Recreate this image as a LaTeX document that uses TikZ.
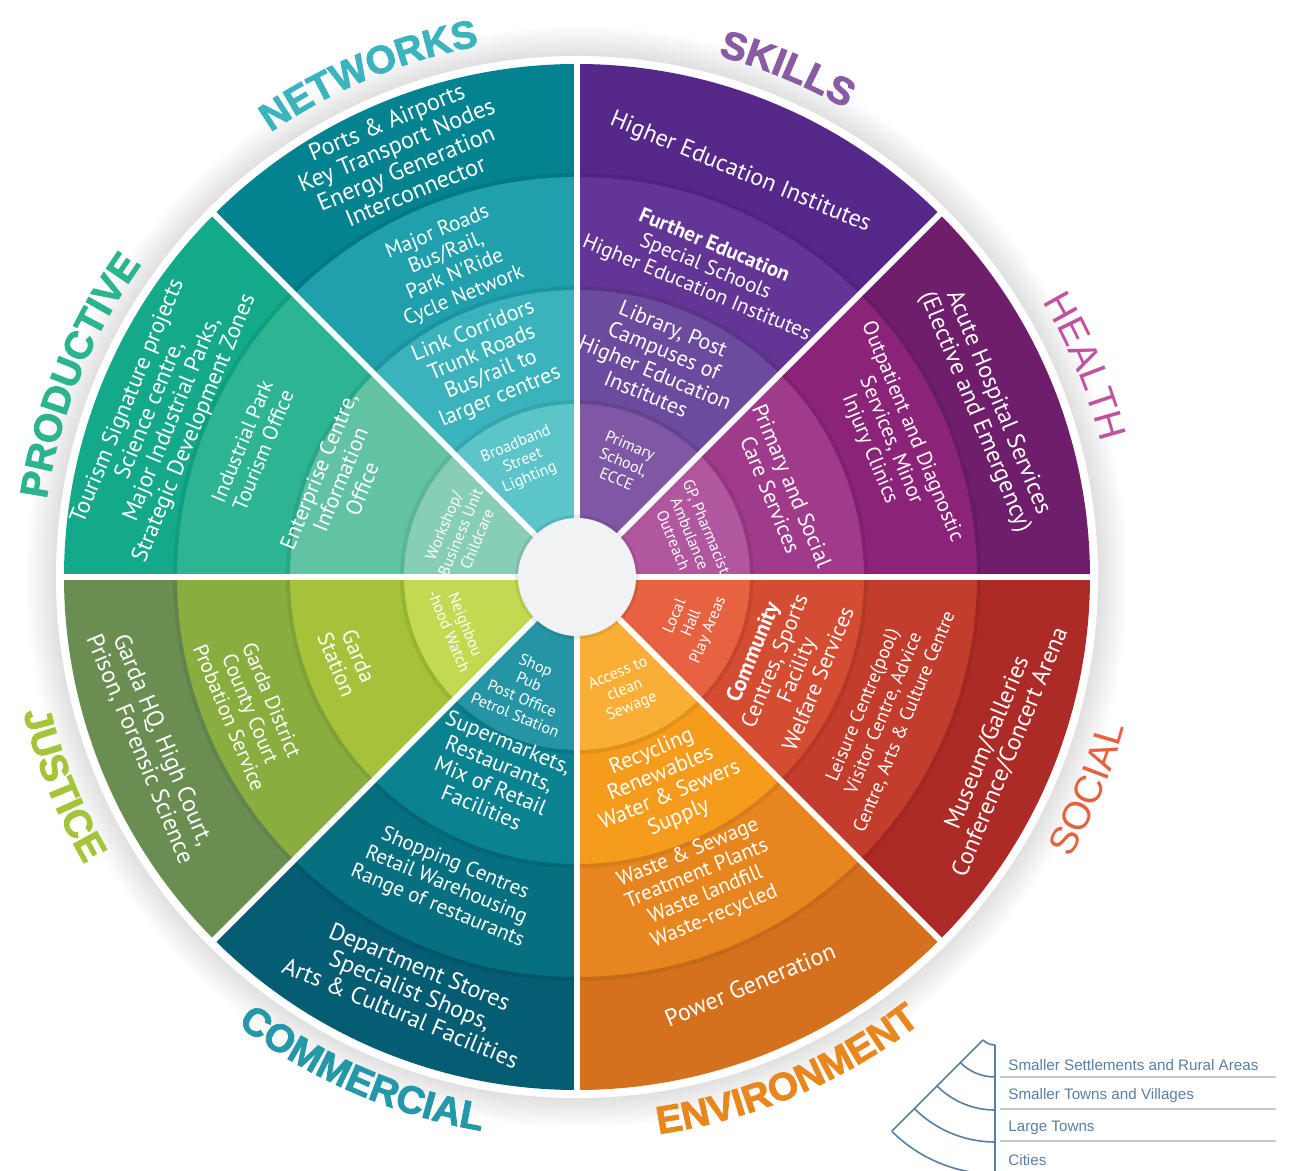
\documentclass[tikz,border=0pt]{standalone}
\usepackage{fontspec}
\newfontfamily\ringfont{PT Sans}
\newfontfamily\labelfont[BoldFeatures={FakeBold=2}]{Liberation Sans}
\usetikzlibrary{decorations.text}

\definecolor{net4}{HTML}{02838F}
\definecolor{net3}{HTML}{1FA0AC}
\definecolor{net2}{HTML}{3BB3BC}
\definecolor{net1}{HTML}{5BC5CA}
\definecolor{net5}{HTML}{3BB4BE}
\definecolor{skl4}{HTML}{55288A}
\definecolor{skl3}{HTML}{633594}
\definecolor{skl2}{HTML}{6C4A9D}
\definecolor{skl1}{HTML}{7F57A4}
\definecolor{skl5}{HTML}{8A5BA5}
\definecolor{hea4}{HTML}{6F1E6C}
\definecolor{hea3}{HTML}{8B2379}
\definecolor{hea2}{HTML}{A03A8A}
\definecolor{hea1}{HTML}{B057A0}
\definecolor{hea5}{HTML}{C052A0}
\definecolor{soc4}{HTML}{AD2B27}
\definecolor{soc3}{HTML}{C23D2C}
\definecolor{soc2}{HTML}{D44C31}
\definecolor{soc1}{HTML}{E66241}
\definecolor{soc5}{HTML}{E5613F}
\definecolor{env4}{HTML}{D5711C}
\definecolor{env3}{HTML}{E7861F}
\definecolor{env2}{HTML}{F59C1D}
\definecolor{env1}{HTML}{F9AF35}
\definecolor{env5}{HTML}{E8871E}
\definecolor{com4}{HTML}{045D73}
\definecolor{com3}{HTML}{066F80}
\definecolor{com2}{HTML}{0A8290}
\definecolor{com1}{HTML}{2595A6}
\definecolor{com5}{HTML}{2497A9}
\definecolor{jus4}{HTML}{6A8E52}
\definecolor{jus3}{HTML}{8AAD3F}
\definecolor{jus2}{HTML}{A5C23A}
\definecolor{jus1}{HTML}{C3D952}
\definecolor{jus5}{HTML}{A4C43A}
\definecolor{pro4}{HTML}{13A98A}
\definecolor{pro3}{HTML}{2CB493}
\definecolor{pro2}{HTML}{62C3A4}
\definecolor{pro1}{HTML}{88CDB6}
\definecolor{pro5}{HTML}{2CB490}
\definecolor{hub}{HTML}{F1F2F4}
\definecolor{keyblue}{HTML}{5A7EA3}

\newcommand\boldname{\labelfont\bfseries\fontsize{19.5}{20}\selectfont}
\newcommand\thinname{\labelfont\fontsize{19.5}{20}\selectfont}

\begin{document}
\begin{tikzpicture}[x=0.5pt,y=0.5pt,
  outer text/.style={text=white,align=center,inner sep=0pt,font=\ringfont\fontsize{12}{12.5}\selectfont},
  third text/.style={outer text,font=\ringfont\fontsize{10.5}{11.5}\selectfont},
  second text/.style={outer text,font=\ringfont\fontsize{11}{11.8}\selectfont},
  inner text/.style={outer text,font=\ringfont\fontsize{8}{9}\selectfont},
  group name/.style 2 args={decorate,decoration={text along path,text align=center,text color=#1,text={#2}}},
  divider/.style={white,line width=3pt},
  key line/.style={draw=keyblue,line width=0.8pt},
  key text/.style={anchor=west,inner sep=0pt,text=keyblue,font=\labelfont\fontsize{7.6}{8}\selectfont}]

  \useasboundingbox (-577,-594) rectangle (712,577);

  % soft shadow round the wheel
  \foreach \r in {523,525,...,551}
    \fill[black,opacity=.007] (0,0) circle[radius=\r];
  \fill[white] (0,0) circle[radius=521];

  \foreach \s/\a in {net/90,skl/45,hea/0,soc/-45,env/-90,com/-135,jus/180,pro/135}{
    \foreach \k/\r in {4/513,3/400,2/287,1/173}
      \fill[fill=\s\k] (0,0) -- (\a:\r) arc[start angle=\a,delta angle=45,radius=\r] -- cycle;
  }
  \foreach \r in {175,289,402}
    \draw[black,opacity=.07,line width=2pt] (0,0) circle[radius=\r];
  \foreach \a in {0,45,...,315}
    \draw[divider] (0,0) -- (\a:516);
  \fill[black,opacity=.08] (0,0) circle[radius=62];
  \fill[hub] (0,0) circle[radius=59];

  % networks
  \node[outer text,rotate=22.5] (net4) at (112.7:456) {Ports \& Airports\\Key Transport Nodes\\Energy Generation\\Interconnector};
  \node[third text,rotate=22.5] (net3) at (112:337) {Major Roads\\Bus/Rail,\\Park N'Ride\\Cycle Network};
  \node[second text,rotate=22.5] (net2) at (113:231) {Link Corridors\\Trunk Roads\\Bus/rail to\\larger centres};
  \node[inner text,rotate=22.5] (net1) at (115:128) {Broadband\\Street\\Lighting};

  % skills
  \node[outer text,rotate=-22.5] (skl4) at (68:436) {Higher Education Institutes};
  \node[third text,rotate=-22.5] (skl3) at (67.5:335) {\textbf{Further Education}\\Special Schools\\Higher Education Institutes};
  \node[second text,rotate=-22.5] (skl2) at (69:231) {Library, Post\\Campuses of\\Higher Education\\Institutes};
  \node[inner text,rotate=-22.5] (skl1) at (68:124) {Primary\\School,\\ECCE};

  % health
  \node[outer text,rotate=-67.5] (hea4) at (22.5:443) {Acute Hospital Services\\(Elective and Emergency)};
  \node[third text,rotate=-67.5] (hea3) at (23.5:342) {Outpatient and Diagnostic\\Services, Minor\\Injury Clinics};
  \node[second text,rotate=-67.5] (hea2) at (23:222) {Primary and Social\\Care Services};
  \node[inner text,rotate=-67.5] (hea1) at (21:121) {GP, Pharmacist\\Ambulance\\Outreach};

  % social
  \node[outer text,rotate=67.5] (soc4) at (-22:455) {Museum/Galleries\\Conference/Concert Arena};
  \node[third text,rotate=67.5,font=\ringfont\fontsize{9.5}{11.3}\selectfont] (soc3) at (-24:336) {Leisure Centre(pool)\\Visitor Centre, Advice\\Centre, Arts \& Culture Centre};
  \node[second text,rotate=67.5] (soc2) at (-23:226) {\textbf{Community}\\Centres, Sports\\Facility\\Welfare Services};
  \node[inner text,rotate=67.5] (soc1) at (-22:124) {Local\\Hall\\Play Areas};

  % environment
  \node[outer text,rotate=22.5] (env4) at (-67:443) {Power Generation};
  \node[third text,rotate=22.5] (env3) at (-68:332) {Waste \& Sewage\\Treatment Plants\\Waste landfill\\Waste-recycled};
  \node[second text,rotate=22.5] (env2) at (-67:226) {Recycling\\Renewables\\Water \& Sewers\\Supply};
  \node[inner text,rotate=22.5] (env1) at (-67:123) {Access to\\clean\\Sewage};

  % commercial
  \node[outer text,rotate=-22.5] (com4) at (-112:445) {Department Stores\\Specialist Shops,\\Arts \& Cultural Facilities};
  \node[third text,rotate=-22.5] (com3) at (-113:335) {Shopping Centres\\Retail Warehousing\\Range of restaurants};
  \node[second text,rotate=-22.5] (com2) at (-112.5:214) {Supermarkets,\\Restaurants,\\Mix of Retail\\Facilities};
  \node[inner text,rotate=-22.5] (com1) at (-114.5:124) {Shop\\Pub\\Post Office\\Petrol Station};

  % justice
  \node[outer text,rotate=-67.5] (jus4) at (-158.5:458) {Garda HQ, High Court,\\Prison, Forensic Science};
  \node[third text,rotate=-67.5] (jus3) at (-158:352) {Garda District\\County Court\\Probation Service};
  \node[second text,rotate=-67.5] (jus2) at (-160:244) {Garda\\Station};
  \node[inner text,rotate=-67.5] (jus1) at (-157:130) {Neighbou\\-hood Watch};

  % productive
  \node[outer text,rotate=67.5,font=\ringfont\fontsize{11.5}{12}\selectfont] (pro4) at (158.7:446) {Tourism Signature projects\\Science centre,\\Major Industrial Parks,\\Strategic Development Zones};
  \node[third text,rotate=67.5] (pro3) at (158:350) {Industrial Park\\Tourism Office};
  \node[second text,rotate=67.5] (pro2) at (157.7:256) {Enterprise Centre,\\Information\\Office};
  \node[inner text,rotate=67.5] (pro1) at (159:125) {Workshop/\\Business Unit\\Childcare};

  % group names round the rim
  \path[group name={net5}{|\boldname|NETWORKS}] (142.5:540) arc[start angle=142.5,end angle=82.5,radius=540];
  \path[group name={skl5}{|\boldname|SKILLS}] (97.5:540) arc[start angle=97.5,end angle=37.5,radius=540];
  \path[group name={hea5}{|\thinname|HEALTH}] (52.5:541) arc[start angle=52.5,end angle=-7.5,radius=541];
  \path[group name={soc5}{|\thinname|SOCIAL}] (-52.5:568) arc[start angle=-52.5,end angle=7.5,radius=568];
  \path[group name={env5}{|\boldname|ENVIRONMENT}] (-97:563) arc[start angle=-97,end angle=-37,radius=563];
  \path[group name={com5}{|\boldname|COMMERCIAL}] (-143.5:562) arc[start angle=-143.5,end angle=-83.5,radius=562];
  \path[group name={jus5}{|\boldname|JUSTICE}] (-188:570) arc[start angle=-188,end angle=-128,radius=570];
  \path[group name={pro5}{|\boldname|PRODUCTIVE}] (188:536) arc[start angle=188,end angle=128,radius=536];

  % key
  \begin{scope}[shift={(418,-451)}]
    \draw[key line] (225:17) -- (225:146);
    \draw[key line] (270:17) -- (270:150);
    \foreach \r in {17,49,82,114,146}
      \draw[key line] (225:\r) arc[start angle=225,end angle=270,radius=\r];
  \end{scope}
  \foreach \y in {-500,-532,-564}
    \draw[gray!45,line width=0.6pt] (423,\y) -- (699,\y);
  \node[key text] (rural) at (431,-488) {Smaller Settlements and Rural Areas};
  \node[key text] (towns) at (431,-519) {Smaller Towns and Villages};
  \node[key text] (large) at (431,-551) {Large Towns};
  \node[key text] (cities) at (431,-583) {Cities};
\end{tikzpicture}
\end{document}
